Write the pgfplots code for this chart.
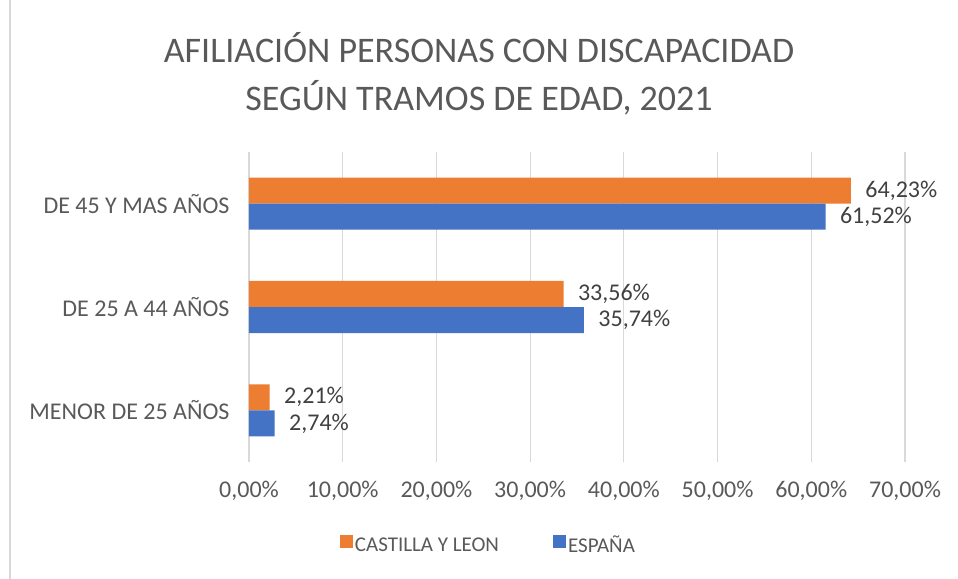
\documentclass[border=0pt]{standalone}
\usepackage{pgfplots}
\pgfplotsset{compat=1.18}
\usepackage{fontspec}
\setmainfont{Carlito}
\definecolor{cyl}{HTML}{ED7D31}
\definecolor{esp}{HTML}{4472C4}
\definecolor{txt}{HTML}{595959}
\definecolor{lbl}{HTML}{404040}
\definecolor{grd}{HTML}{D9D9D9}
\begin{document}
\begin{tikzpicture}
\useasboundingbox (-249bp,-117bp) rectangle (709bp,462bp);
\draw[grd,line width=1.2bp] (-239bp,-117bp) -- (-239bp,462bp);
\begin{axis}[
  at={(0,0)}, anchor=south west,
  width=656bp, height=310bp, scale only axis,
  xmin=0, xmax=70, ymin=-0.5, ymax=2.5,
  axis line style={draw=none},
  xmajorgrids, grid style={grd, line width=1.2bp},
  major tick length=0pt,
  xtick={0,10,...,70},
  ytick={0,1,2},
  yticklabels={MENOR DE 25 AÑOS, DE 25 A 44 AÑOS, DE 45 Y MAS AÑOS},
  /pgf/number format/assume math mode=true,
  xticklabel={\pgfmathprintnumber[fixed,fixed zerofill,precision=2,use comma]{\tick}\%},
  ticklabel style={font=\fontsize{24bp}{28bp}\selectfont, text=txt},
  yticklabel style={xshift=-16bp},
  xticklabel style={yshift=-16bp},
  xbar, bar width=0.252,
  nodes near coords={\pgfmathprintnumber[fixed,fixed zerofill,precision=2,use comma]{\pgfplotspointmeta}\%},
  nodes near coords style={font=\fontsize{24bp}{28bp}\selectfont, text=lbl, anchor=west, xshift=11bp},
  title={AFILIACIÓN PERSONAS CON DISCAPACIDAD\\SEGÚN TRAMOS DE EDAD, 2021},
  title style={at={(0.3506,1.232)}, anchor=center, align=center, font=\fontsize{36bp}{48bp}\selectfont, text=txt},
  legend columns=2,
  legend style={draw=none, at={(0.365,-0.268)}, anchor=center, font=\fontsize{21bp}{24bp}\selectfont, text=txt,
    nodes={inner sep=2bp},
    /tikz/every even column/.append style={column sep=52bp}},
  legend image code/.code={\fill[#1,draw=none] (0bp,-3bp) rectangle (13bp,10bp);},
]
\addplot[fill=cyl, draw=none, bar shift=0.126, point meta=x] coordinates {(2.21,0) (33.56,1) (64.23,2)};
\addlegendentry{CASTILLA Y LEON}
\addplot[fill=esp, draw=none, bar shift=-0.126, point meta=x] coordinates {(2.74,0) (35.74,1) (61.52,2)};
\addlegendentry{ESPAÑA}
\end{axis}
\end{tikzpicture}
\end{document}
